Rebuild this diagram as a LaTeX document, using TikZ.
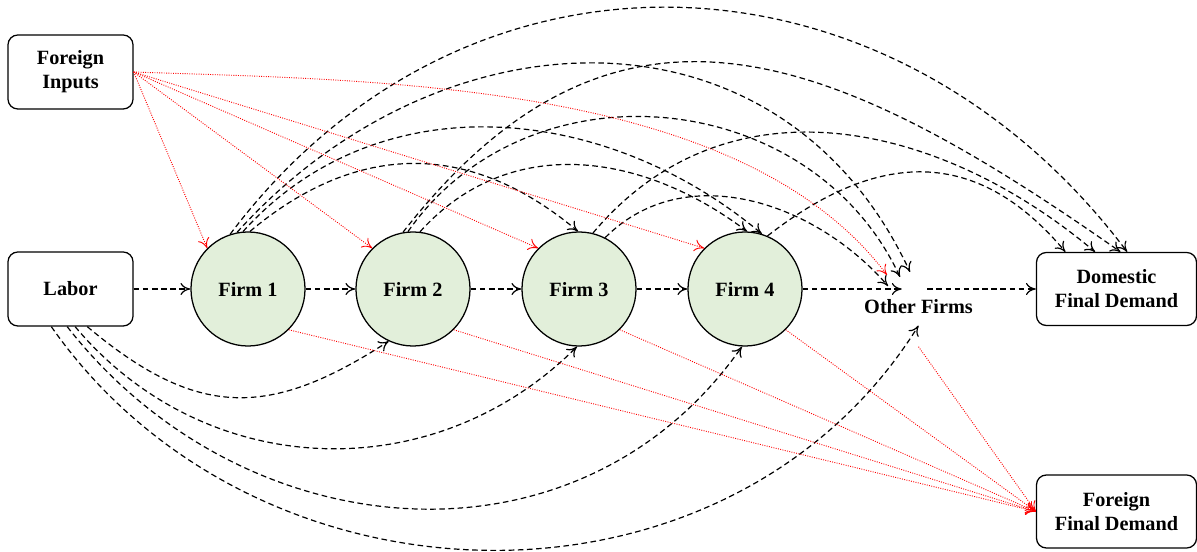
\documentclass[tikz,border=0pt]{standalone}
\usepackage{fontspec}
\setmainfont{Liberation Serif}
\usetikzlibrary{arrows.meta}
\definecolor{firmgreen}{RGB}{226,239,218}

\begin{document}
\begin{tikzpicture}[x=0.025cm, y=0.025cm,
    font=\bfseries\fontsize{14.4}{17}\selectfont,
    box/.style={draw, rounded corners=7pt, line width=0.9pt, align=center, minimum width=3.125cm, minimum height=1.85cm},
    demand/.style={box, minimum width=4cm, minimum height=1.825cm},
    firm/.style={draw, circle, line width=0.9pt, fill=firmgreen, minimum size=2.85cm, text depth=0pt},
    hub/.style={circle, minimum size=0.625cm, inner sep=0pt},
    flow/.style={-{To[length=7pt,width=8.5pt]}, line width=0.85pt, dash pattern=on 4pt off 2.5pt},
    trade/.style={-{To[length=7pt,width=8.5pt]}, red, line width=0.65pt, densely dotted}]
      \useasboundingbox (0,0) rectangle (1197,552);

      \node[box] (finp) at (70.5,480) {Foreign\\Inputs};
      \node[box] (labor) at (70.5,263) {Labor};
      \node[firm] (firm1) at (248,263) {Firm 1};
      \node[firm] (firm2) at (413,263) {Firm 2};
      \node[firm] (firm3) at (579,263) {Firm 3};
      \node[firm] (firm4) at (745,263) {Firm 4};
      \node[hub] (other) at (914.5,263) {};
      \node[inner ysep=8pt] (otherlbl) at (918.5,245) {Other Firms};
      \node[demand] (dom) at (1116.5,263) {Domestic\\Final Demand};
      \node[demand] (ffd) at (1116.5,40.5) {Foreign\\Final Demand};

      \draw[flow] (labor) -- (firm1);
      \draw[flow] (firm1) -- (firm2);
      \draw[flow] (firm2) -- (firm3);
      \draw[flow] (firm3) -- (firm4);
      \draw[flow] (firm4) -- (other);
      \draw[flow] (other) -- (dom);

      \draw[flow] (firm1.88) to[out=40, in=140, looseness=1.1] (firm3.91);
      \draw[flow] (firm1.95) to[out=48, in=140] (firm4.73);
      \draw[flow] (firm1.101) to[out=48, in=115, looseness=1.16] ([shift={(-4.5,17)}]other.center);
      \draw[flow] (firm1.108) to[out=53, in=127, looseness=1.12] (dom.74);
      \draw[flow] (firm2.83) to[out=48, in=143, looseness=1.04] (firm4.88);
      \draw[flow] (firm2.95) to[out=55, in=115, looseness=1.09] ([shift={(-14.5,12)}]other.center);
      \draw[flow] (firm2.100) to[out=52, in=145, looseness=1.24] (dom.84);
      \draw[flow] (firm3.63) to[out=45, in=131] ([shift={(-26.5,3)}]other.center);
      \draw[flow] (firm3.76) to[out=50, in=140, looseness=1.05] (dom.120);
      \draw[flow] (firm4.67) to[out=38, in=130, looseness=1.19] (dom.144);

      \draw[flow] (labor.294) to[out=-40, in=213, looseness=1.21] (firm2.245);
      \draw[flow] (labor.277) to[out=-50, in=225, looseness=1.03] (firm3.268);
      \draw[flow] (labor.265) to[out=-52, in=235, looseness=1.08] (firm4.267);
      \draw[flow] (labor.243) to[out=-55, in=238, looseness=1.06] (otherlbl.south);

      \draw[trade] (finp.east) -- (firm1.north west);
      \draw[trade] (finp.east) -- (firm2.north west);
      \draw[trade] (finp.east) -- (firm3.north west);
      \draw[trade] (finp.east) -- (firm4.north west);
      \draw[trade] (finp.east) to[out=-2, in=127, looseness=0.8] ([shift={(-27.5,14)}]other.center);

      \draw[trade] (firm1.south east) -- (ffd.west);
      \draw[trade] (firm2.south east) -- (ffd.west);
      \draw[trade] (firm3.south east) -- (ffd.west);
      \draw[trade] (firm4.south east) -- (ffd.west);
      \draw[trade] ([yshift=-15pt]otherlbl.south) -- (ffd.west);
\end{tikzpicture}
\end{document}
